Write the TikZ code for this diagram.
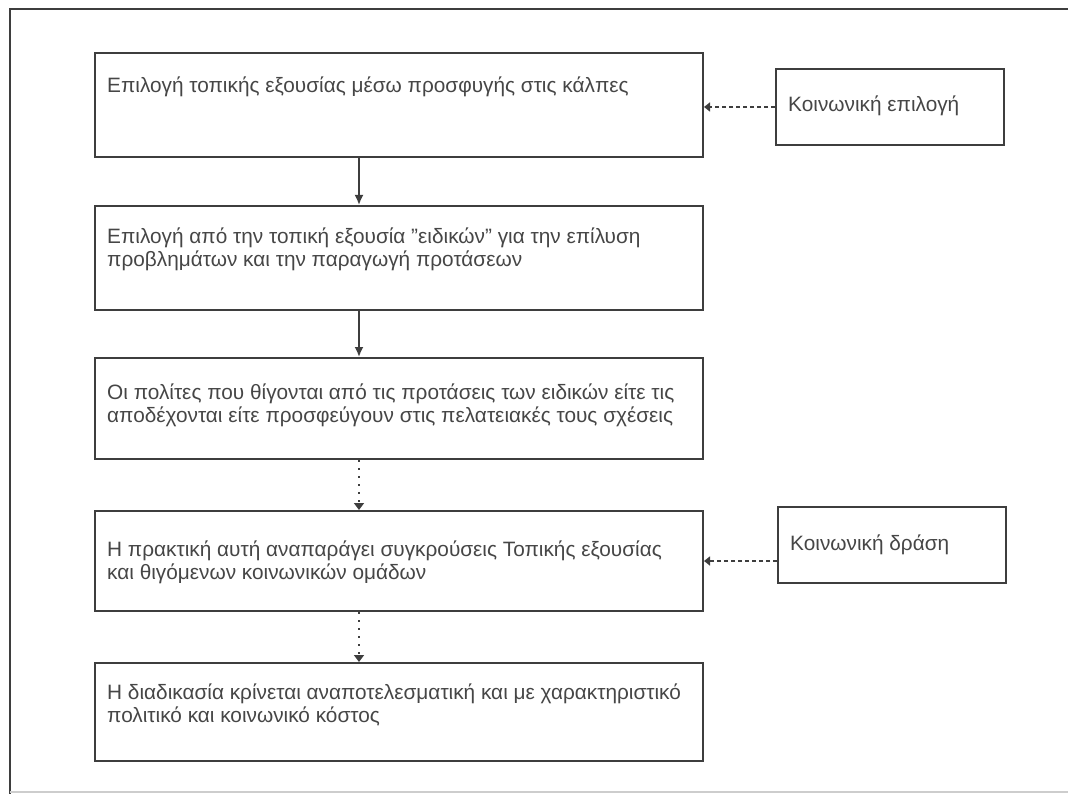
\documentclass[tikz,border=0pt]{standalone}
\usepackage{fontspec}
\setmainfont{Liberation Sans}
\usetikzlibrary{arrows.meta}
\definecolor{ink}{RGB}{62,62,62}
\definecolor{textink}{RGB}{70,70,70}
\definecolor{faint}{RGB}{205,205,205}
\tikzset{
  stagebox/.style={draw=ink, line width=2pt, rectangle, inner sep=0pt,
    anchor=north west, minimum width=608pt},
  sidebox/.style={draw=ink, line width=2pt, rectangle, inner sep=0pt,
    anchor=north west, minimum width=228pt, minimum height=76pt},
  stagetext/.style={anchor=base west, inner sep=0pt, text=textink,
    font=\fontsize{20.8}{23}\selectfont},
  solidarrow/.style={draw=ink, line width=1.8pt, -{Latex[length=10pt,width=9pt]}},
  vdotarrow/.style={draw=ink, line width=2.4pt, dash pattern=on 2pt off 6pt,
    -{Triangle[length=7pt,width=10pt]}},
  hdotarrow/.style={draw=ink, line width=1.7pt, dash pattern=on 4pt off 3pt,
    -{Triangle[length=6pt,width=9pt]}},
}
\newcommand\twolines[2]{\parbox[t]{590pt}{#1\\#2}}
\begin{document}
\begin{tikzpicture}[x=1pt,y=-1pt]
\useasboundingbox (0,0) rectangle (1068,794);
% outer frame
\draw[draw=ink, line width=2pt] (1068,9) -- (10,9) -- (10,794);
\draw[draw=faint, line width=1.2pt] (10,792) -- (1068,792);

% stage boxes
\node[stagebox, minimum height=104pt] (b1) at (94,52) {};
\node[stagebox, minimum height=104pt] (b2) at (94,205) {};
\node[stagebox, minimum height=101pt] (b3) at (94,357) {};
\node[stagebox, minimum height=100pt] (b4) at (94,510) {};
\node[stagebox, minimum height=98pt] (b5) at (94,662) {};

% side boxes
\node[sidebox] (r1) at (775,68) {};
\node[sidebox] (r2) at (777,506) {};

% texts
\node[stagetext] (t1) at (107,93) {Επιλογή τοπικής εξουσίας μέσω προσφυγής στις κάλπες};
\node[stagetext] (t2) at (107,244) {\twolines{Επιλογή από την τοπική εξουσία "ειδικών" για την επίλυση}{προβλημάτων και την παραγωγή προτάσεων}};
\node[stagetext] (t3) at (107,399) {\twolines{Οι πολίτες που θίγονται από τις προτάσεις των ειδικών είτε τις}{αποδέχονται είτε προσφεύγουν στις πελατειακές τους σχέσεις}};
\node[stagetext] (t4) at (107,556) {\twolines{Η πρακτική αυτή αναπαράγει συγκρούσεις Τοπικής εξουσίας}{και θιγόμενων κοινωνικών ομάδων}};
\node[stagetext] (t5) at (107,699) {\twolines{Η διαδικασία κρίνεται αναποτελεσματική και με χαρακτηριστικό}{πολιτικό και κοινωνικό κόστος}};
\node[stagetext] (s1) at (788,112) {Κοινωνική επιλογή};
\node[stagetext] (s2) at (790,550) {Κοινωνική δράση};

% connector guides
\coordinate (ax) at (359,0);
\coordinate (ay2) at (0,561);

% connectors
\draw[solidarrow] (b1.south -| ax) -- (b2.north -| ax);
\draw[solidarrow] (b2.south -| ax) -- (b3.north -| ax);
\draw[vdotarrow] (b3.south -| ax) -- (b4.north -| ax);
\draw[vdotarrow] (b4.south -| ax) -- (b5.north -| ax);
\draw[hdotarrow] (r1.west) -- (r1.west -| b1.east);
\draw[hdotarrow] (r2.west |- ay2) -- (b4.east |- ay2);
\end{tikzpicture}
\end{document}
